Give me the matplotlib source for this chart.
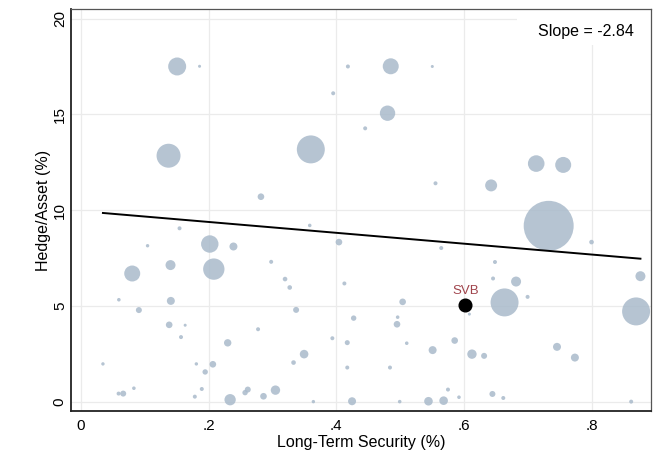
import numpy as np
import matplotlib
matplotlib.use("Agg")
import matplotlib.pyplot as plt
from matplotlib.patches import Rectangle

plt.rcParams['font.family'] = ['Liberation Sans', 'DejaVu Sans']

# Long-term security share, hedge/asset ratio, bubble weight (relative size)
long_term = [0.151, 0.186, 0.418, 0.395, 0.1375, 0.360, 0.282, 0.485, 0.550, 0.480,
             0.445, 0.7125, 0.7547, 0.555, 0.642, 0.732, 0.799, 0.564, 0.648, 0.645,
             0.681, 0.8755, 0.699, 0.663, 0.8687, 0.5036, 0.4125, 0.404, 0.427, 0.4958,
             0.4948, 0.608, 0.417, 0.51, 0.585, 0.5505, 0.612, 0.631, 0.745, 0.773,
             0.417, 0.4838, 0.5745, 0.5917, 0.644, 0.661, 0.4245, 0.499, 0.544, 0.5677,
             0.861, 0.1547, 0.3583, 0.1047, 0.2020, 0.239, 0.298, 0.1406, 0.0807, 0.2083,
             0.3197, 0.327, 0.0598, 0.1411, 0.0911, 0.337, 0.1385, 0.1635, 0.2775, 0.157,
             0.230, 0.3937, 0.3495, 0.333, 0.0349, 0.181, 0.2068, 0.1948, 0.0833, 0.0594,
             0.0666, 0.1895, 0.1786, 0.2338, 0.2614, 0.2572, 0.286, 0.3047, 0.364]
hedge_asset = [17.50, 17.51, 17.5, 16.1, 12.84, 13.17, 10.70, 17.51, 17.5, 15.06,
               14.27, 12.43, 12.36, 11.40, 11.29, 9.18, 8.33, 8.02, 7.29, 6.43,
               6.27, 6.55, 5.47, 5.18, 4.71, 5.21, 6.17, 8.33, 4.36, 4.41,
               4.04, 4.57, 3.08, 3.05, 3.19, 2.69, 2.48, 2.39, 2.86, 2.30,
               1.78, 1.78, 0.63, 0.23, 0.40, 0.19, 0.02, 0.0, 0.02, 0.05,
               0.0, 9.05, 9.2, 8.14, 8.23, 8.10, 7.30, 7.13, 6.69, 6.92,
               6.40, 5.96, 5.32, 5.26, 4.78, 4.79, 4.01, 3.99, 3.78, 3.37,
               3.07, 3.31, 2.48, 2.04, 1.97, 1.97, 1.95, 1.55, 0.70, 0.42,
               0.42, 0.66, 0.26, 0.10, 0.63, 0.47, 0.28, 0.60, 0.0]
weight = [81, 2.3, 4, 4, 144, 196, 11, 64, 2.3, 59,
          4, 69, 64, 4, 36, 625, 5.3, 4, 4, 4,
          25, 25, 4, 196, 196, 11, 4, 11, 7.3, 3.2,
          11, 2.3, 6.3, 3.2, 11, 16, 22, 9, 16, 16,
          4, 4, 4, 3.2, 9, 4, 16, 3.2, 18.5, 18.5,
          4, 4, 3.2, 2.9, 76, 16, 4, 25, 64, 114,
          5.3, 5.3, 3.2, 16, 9, 9, 11, 2.3, 4, 4,
          13.7, 4, 18.5, 5.3, 2.9, 2.9, 11, 7.3, 3.2, 4,
          9, 4, 4, 32, 9, 7.3, 11, 22, 2.9]

svb_x, svb_y, svb_weight = 0.6015, 5.04, 40
slope = -2.84
intercept = 9.95

x_ticks = [0, 0.2, 0.4, 0.6, 0.8]
x_ticklabels = ['0', '.2', '.4', '.6', '.8']
y_ticks = [0, 5, 10, 15, 20]

fig = plt.figure(figsize=(6.54, 4.65), dpi=100)
ax = fig.add_axes([0.1086, 0.1161, 0.8868, 0.8645])

ax.set_xlim(-0.015, 0.892)
ax.set_ylim(-0.49, 20.5)

ax.set_axisbelow(True)
ax.grid(True, color='#ebebeb', linewidth=0.9)

scale = 2.07
ax.scatter(long_term, hedge_asset, s=np.array(weight) * scale,
           color='#a9bacb', alpha=0.85, linewidths=0, zorder=2)
ax.scatter([svb_x], [svb_y], s=svb_weight * scale, color='black', zorder=4)
ax.annotate('SVB', (svb_x, svb_y), xytext=(0, 10), textcoords='offset points',
            ha='center', va='center', color='#a0444c', fontsize=9.5)

xs = np.array([min(long_term), max(long_term)])
ax.plot(xs, intercept + slope * xs, color='black', linewidth=1.4, zorder=3)

ax.add_patch(Rectangle((0.769, 0.910), 0.231, 0.09, transform=ax.transAxes,
                       facecolor='white', edgecolor='none', zorder=1.5))
ax.text(0.888, 0.943, f'Slope = {slope:.2f}', transform=ax.transAxes,
        ha='center', va='center', fontsize=11.5, zorder=5)

ax.set_xticks(x_ticks)
ax.set_xticklabels(x_ticklabels)
ax.set_yticks(y_ticks)
ax.set_yticklabels([str(v) for v in y_ticks], rotation=90, va='center')
ax.tick_params(length=0, labelsize=11, colors='black')
ax.tick_params(axis='y', pad=3)
ax.tick_params(axis='x', pad=6)

for side in ['top', 'right']:
    ax.spines[side].set_color('#555555')
    ax.spines[side].set_linewidth(0.9)
for side in ['left', 'bottom']:
    ax.spines[side].set_color('#222222')
    ax.spines[side].set_linewidth(1.3)

ax.set_xlabel('Long-Term Security (%)', fontsize=11.5, labelpad=1)
ax.set_ylabel('Hedge/Asset (%)', fontsize=11.5, labelpad=1.5)

fig.savefig('out.png', dpi=100, facecolor='white')
